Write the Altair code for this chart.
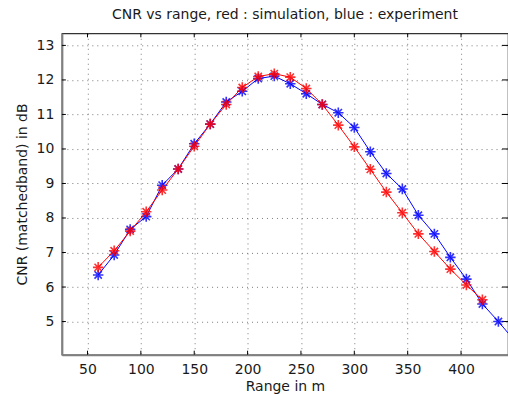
import altair as alt
import pandas as pd

range_sim = [60, 75, 90, 105, 120, 135, 150, 165, 180, 195, 210, 225, 240,
             255, 270, 285, 300, 315, 330, 345, 360, 375, 390, 405, 420]
cnr_sim = [6.57, 7.05, 7.62, 8.18, 8.81, 9.42, 10.08, 10.72, 11.29, 11.78, 12.10,
           12.18, 12.08, 11.75, 11.29, 10.69, 10.06, 9.41, 8.75, 8.15, 7.54,
           7.03, 6.52, 6.06, 5.63]

range_exp = [60, 75, 90, 105, 120, 135, 150, 165, 180, 195, 210, 225, 240,
             255, 270, 285, 300, 315, 330, 345, 360, 375, 390, 405, 420, 435, 450]
cnr_exp = [6.35, 6.93, 7.67, 8.04, 8.95, 9.42, 10.15, 10.72, 11.36, 11.67, 12.04,
           12.11, 11.89, 11.60, 11.29, 11.05, 10.62, 9.92, 9.29, 8.84, 8.08,
           7.54, 6.86, 6.23, 5.51, 5.00, 4.45]

x_ticks = [50, 100, 150, 200, 250, 300, 350, 400]
y_ticks = [5, 6, 7, 8, 9, 10, 11, 12, 13]

W, H = 447, 322

sim = pd.DataFrame({"range": range_sim, "cnr": cnr_sim})
exp = pd.DataFrame({"range": range_exp, "cnr": cnr_exp})
xt = pd.DataFrame({"range": x_ticks})
yt = pd.DataFrame({"cnr": y_ticks})

FONT = "DejaVu Sans"
ASTERISK = "M-1,0L1,0M0,-1L0,1M-0.7,-0.7L0.7,0.7M-0.7,0.7L0.7,-0.7"

xs = alt.Scale(domain=[26, 444], nice=False, zero=False)
ys = alt.Scale(domain=[4.04, 13.35], nice=False, zero=False)

x_enc = alt.X("range:Q", scale=xs, title="Range in m",
              axis=alt.Axis(values=x_ticks, grid=True, ticks=False))
y_enc = alt.Y("cnr:Q", scale=ys, title="CNR (matchedband) in dB",
              axis=alt.Axis(values=y_ticks, grid=True, ticks=False))


def series(df, color):
    line = alt.Chart(df).mark_line(color=color, strokeWidth=1, clip=True).encode(
        x=x_enc, y=y_enc)
    pts = alt.Chart(df).mark_point(shape=ASTERISK, size=110, filled=False,
                                   color=color, strokeWidth=1.6, opacity=0.8,
                                   clip=True).encode(x=x_enc, y=y_enc)
    return line + pts


tick_style = dict(color="#000000", strokeWidth=1)
ticks = [
    alt.Chart(xt).mark_rule(**tick_style).encode(x=x_enc, y=alt.value(H), y2=alt.value(H - 4)),
    alt.Chart(xt).mark_rule(**tick_style).encode(x=x_enc, y=alt.value(0), y2=alt.value(4)),
    alt.Chart(yt).mark_rule(**tick_style).encode(y=y_enc, x=alt.value(0), x2=alt.value(4)),
    alt.Chart(yt).mark_rule(**tick_style).encode(y=y_enc, x=alt.value(W - 6), x2=alt.value(W)),
]

chart = alt.layer(*ticks, series(exp, "#0000ff"), series(sim, "#ff0000")).properties(
    width=W,
    height=H,
    title=alt.TitleParams("CNR vs range, red : simulation, blue : experiment",
                          font=FONT, fontSize=14, fontWeight="normal",
                          color="#1a1a1a", offset=11),
    autosize=alt.AutoSizeParams(type="none"),
    padding={"left": 62, "top": 33, "right": 0, "bottom": 39},
).configure_view(
    stroke="#333333", strokeWidth=1.2
).configure_axis(
    labelFont=FONT, labelFontSize=14, labelColor="#1a1a1a",
    titleFont=FONT, titleFontSize=14, titleFontWeight="normal", titleColor="#1a1a1a",
    domainColor="#808080", domainWidth=2,
    gridColor="#7a7a7a", gridDash=[1, 4], gridWidth=1,
    labelPadding=8,
).configure_axisX(
    titlePadding=3
).configure_axisY(
    titlePadding=7
)

chart.save("out.html", embed_options={"renderer": "svg", "actions": False})
